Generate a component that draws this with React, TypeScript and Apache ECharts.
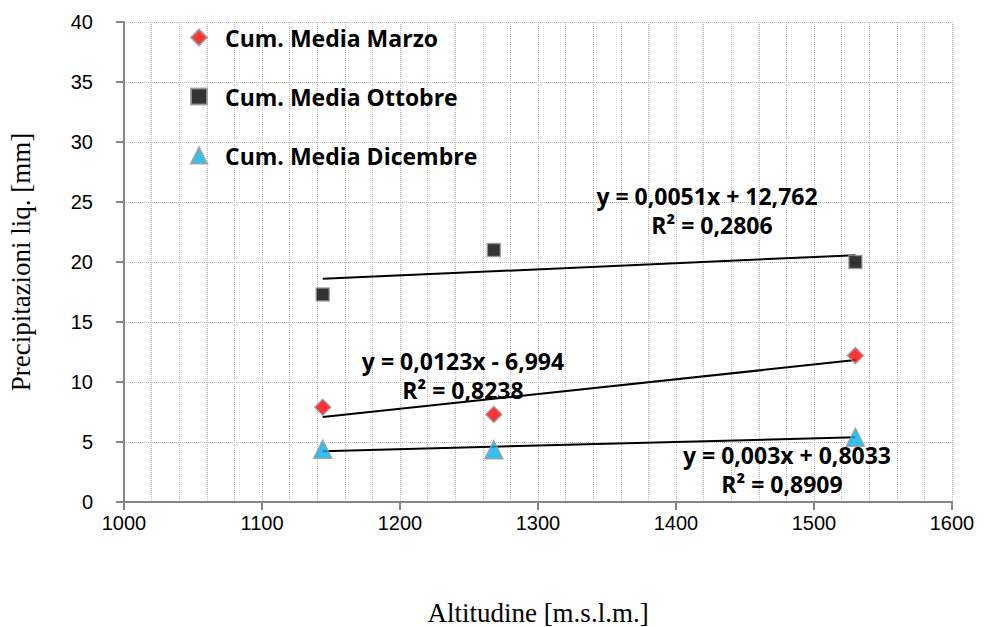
import React, { useEffect, useRef } from "react";
import * as echarts from "echarts";

const seriesNames = ["Cum. Media Marzo", "Cum. Media Ottobre", "Cum. Media Dicembre"];
const altitudes = [1144, 1268, 1530];
const marzo = [7.9, 7.3, 12.2];
const ottobre = [17.3, 21.0, 20.0];
const dicembre = [4.4, 4.35, 5.4];
const slopes = [0.0123, 0.0051, 0.003];
const intercepts = [-6.994, 12.762, 0.8033];
const equations = ["y = 0,0123x - 6,994", "y = 0,0051x + 12,762", "y = 0,003x + 0,8033"];
const r2Labels = ["R² = 0,8238", "R² = 0,2806", "R² = 0,8909"];

const colors = ["#ff0000", "#000000", "#00b0f0"];
const symbols = ["diamond", "rect", "triangle"];
const symbolSizes = [16, 13, 18];

export default function App() {
  const ref = useRef<HTMLDivElement>(null);
  useEffect(() => {
    if (!ref.current) return;
    const chart = echarts.init(ref.current, undefined, { renderer: "svg" });
    const values = [marzo, ottobre, dicembre];
    const xMin = Math.min(...altitudes);
    const xMax = Math.max(...altitudes);
    const scatterSeries = values.map((v, i) => ({
      name: seriesNames[i],
      type: "scatter",
      symbol: symbols[i],
      symbolSize: symbolSizes[i],
      itemStyle: { color: colors[i], borderColor: "#999999", borderWidth: 1.5 },
      data: altitudes.map((a, j) => [a, v[j]]),
      z: 5,
    }));
    const trendSeries = slopes.map((s, i) => ({
      name: "trend" + i,
      type: "line",
      symbol: "none",
      lineStyle: { color: "#000", width: 2 },
      data: [
        [xMin, s * xMin + intercepts[i]],
        [xMax, s * xMax + intercepts[i]],
      ],
      z: 3,
    }));
    const boldFont = "Open Sans";
    const labelFont = { fontFamily: boldFont, fontWeight: "bold" as const, fontSize: 23, fill: "#000" };
    const eqPos = [
      [463, 361],
      [707, 196],
      [787, 455],
    ];
    const graphics: any[] = [];
    eqPos.forEach((p, i) => {
      graphics.push({
        type: "text",
        x: p[0],
        y: p[1],
        style: { ...labelFont, text: equations[i], textAlign: "center", textVerticalAlign: "middle" },
        z: 10,
      });
      graphics.push({
        type: "text",
        x: p[0] + (i === 1 ? 5 : i === 2 ? -5 : 0),
        y: p[1] + 29,
        style: { ...labelFont, text: r2Labels[i], textAlign: "center", textVerticalAlign: "middle" },
        z: 10,
      });
    });
    const legendTops = [21, 80, 139];
    const legends = seriesNames.map((n, i) => ({
      data: [n],
      left: 185,
      top: legendTops[i],
      itemWidth: 16,
      itemHeight: 16,
      itemGap: 0,
      textStyle: { fontFamily: boldFont, fontWeight: "bold", fontSize: 23, color: "#000", padding: [0, 0, 0, 13] },
    }));
    chart.setOption({
      animation: false,
      backgroundColor: "#fff",
      grid: { left: 124, right: 37, top: 22, bottom: 125, outerBoundsMode: "none", containLabel: false },
      legend: legends,
      xAxis: {
        type: "value",
        min: 1000,
        max: 1600,
        interval: 100,
        name: "Altitudine [m.s.l.m.]",
        nameLocation: "middle",
        nameGap: 97,
        nameTextStyle: { fontFamily: "Liberation Serif", fontSize: 27, color: "#000" },
        axisLine: { show: true, lineStyle: { color: "#868686", width: 2 } },
        axisTick: { show: true, length: 8, lineStyle: { color: "#868686", width: 2 } },
        axisLabel: { fontFamily: "Liberation Sans", fontSize: 20, color: "#000", margin: 11, formatter: (v: number) => String(v) },
        splitLine: { show: true, lineStyle: { color: "#bdbdbd", type: "dotted", width: 1 } },
        minorTick: { show: false, splitNumber: 5 },
        minorSplitLine: { show: true, lineStyle: { color: "#bdbdbd", type: "dotted", width: 1 } },
      },
      yAxis: {
        type: "value",
        min: 0,
        max: 40,
        interval: 5,
        name: "Precipitazioni liq. [mm]",
        nameLocation: "middle",
        nameGap: 90,
        nameTextStyle: { fontFamily: "Liberation Serif", fontSize: 27, color: "#000" },
        axisLine: { show: true, lineStyle: { color: "#868686", width: 2 } },
        axisTick: { show: true, length: 8, lineStyle: { color: "#868686", width: 2 } },
        axisLabel: { fontFamily: "Liberation Sans", fontSize: 20, color: "#000", margin: 31 },
        splitLine: { show: true, lineStyle: { color: "#bdbdbd", type: "dotted", width: 1 } },
      },
      series: [...trendSeries, ...scatterSeries],
      graphic: graphics,
    });
    return () => chart.dispose();
  }, []);
  return <div ref={ref} style={{ width: 989, height: 627, position: "absolute", left: 0, top: 0 }} />;
}
